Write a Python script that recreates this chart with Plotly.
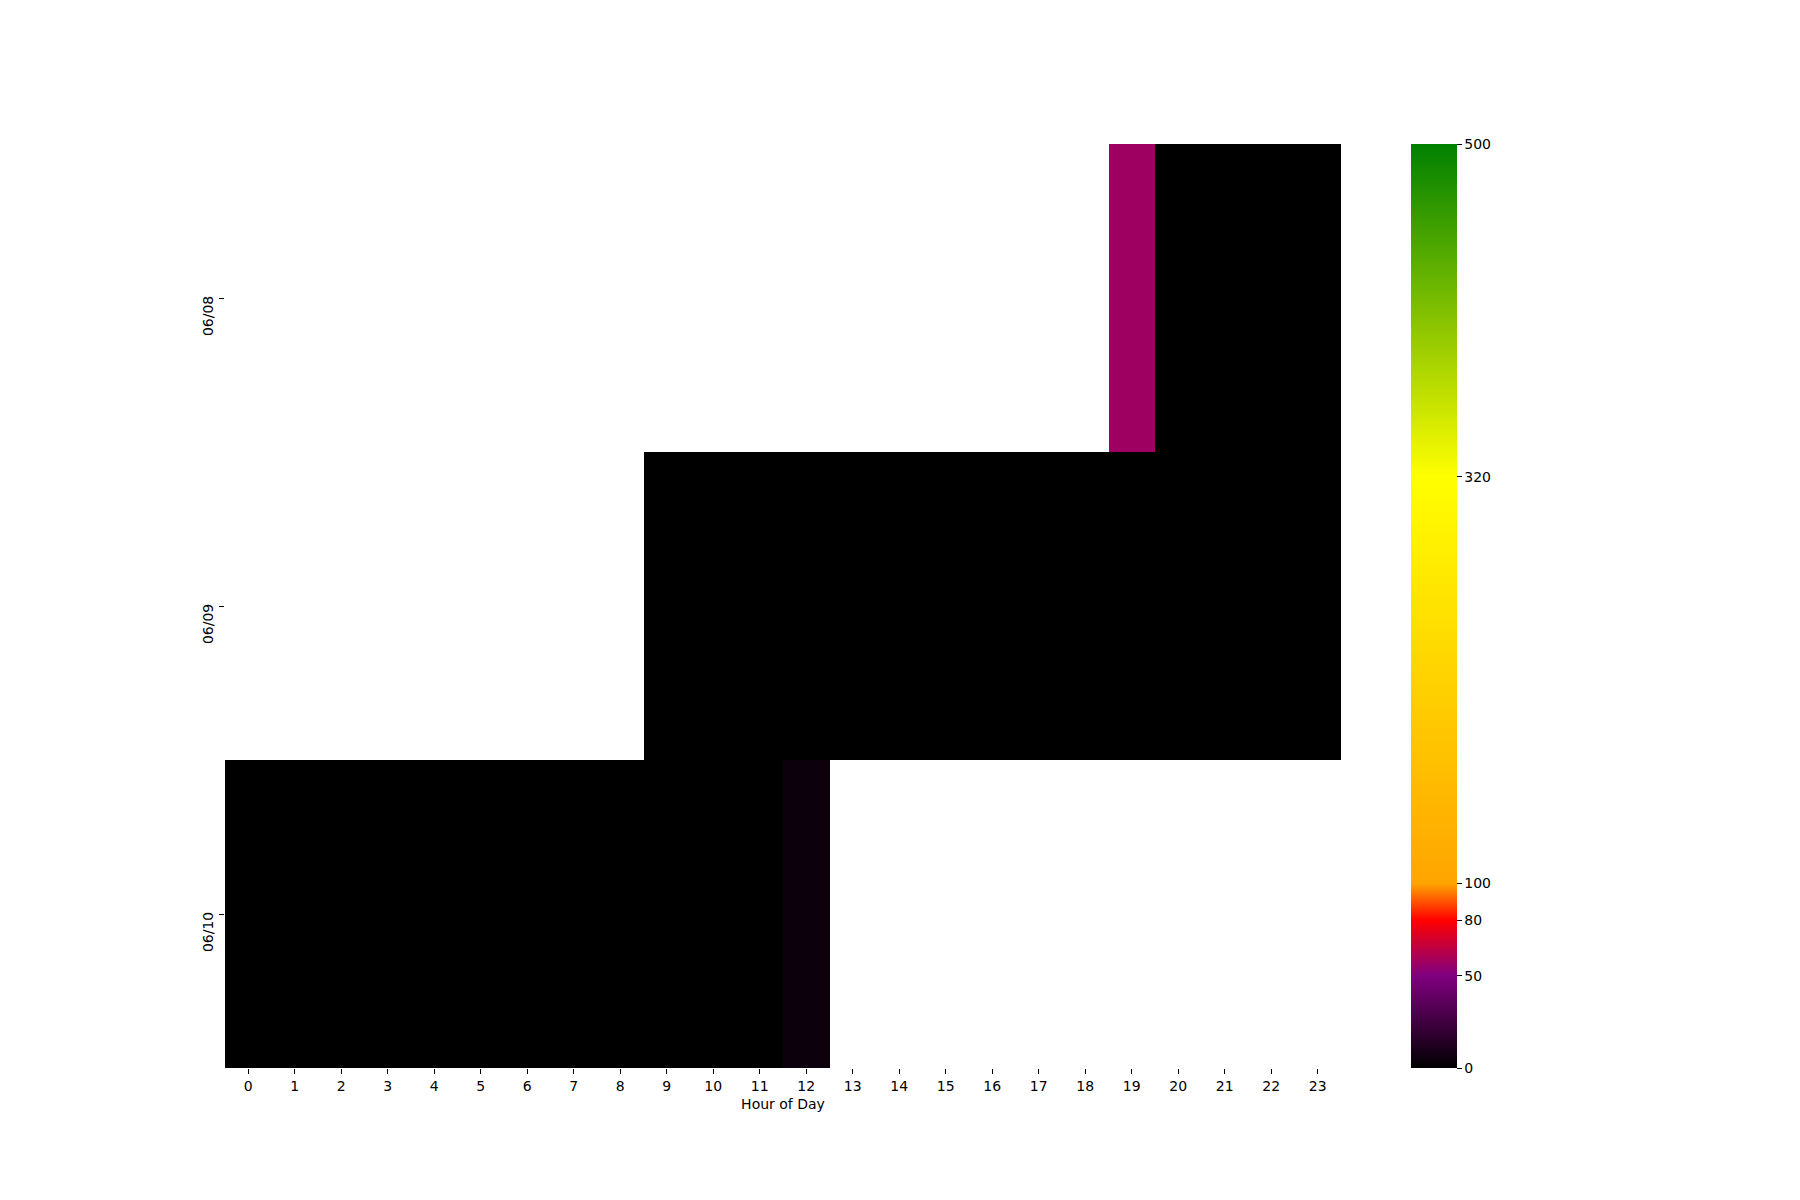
import plotly.graph_objects as go

hours = list(range(24))
dates = ["06/08", "06/09", "06/10"]
N = None
row_0608 = [N]*19 + [57] + [0, 0, 0, 0]
row_0609 = [N]*9 + [0]*15
row_0610 = [0]*12 + [5] + [N]*11
z = [row_0608, row_0609, row_0610]

cb_ticks = [0, 50, 80, 100, 320, 500]
colorscale = [
    [0.0, "#000000"],
    [0.1, "#800080"],
    [0.16, "#FF0000"],
    [0.2, "#FFA500"],
    [0.64, "#FFFF00"],
    [1.0, "#008000"],
]

fig = go.Figure(go.Heatmap(
    z=z, x=hours, y=dates,
    zmin=0, zmax=500,
    colorscale=colorscale,
    hoverongaps=False,
    colorbar=dict(
        thickness=46, thicknessmode="pixels",
        len=1, lenmode="fraction", y=0.5, yanchor="middle", ypad=0,
        x=1.0627, xanchor="left", xpad=0,
        outlinewidth=0,
        tickvals=cb_ticks, ticktext=[str(v) for v in cb_ticks],
        ticks="outside", ticklen=5, tickwidth=1, tickcolor="black",
        tickfont=dict(family="DejaVu Sans", size=14, color="black"),
    ),
))

fig.update_layout(
    width=1800, height=1200,
    margin=dict(l=225, r=459, t=144, b=132),
    paper_bgcolor="white", plot_bgcolor="white",
    font=dict(family="DejaVu Sans", size=14, color="black"),
    xaxis=dict(
        tickmode="array", tickvals=hours, ticktext=[str(h) for h in hours],
        range=[-0.5, 23.5], showgrid=False, zeroline=False, showline=False,
        ticks="outside", ticklen=5, tickwidth=1, tickcolor="black",
        title=dict(text="Hour of Day", standoff=6, font=dict(size=14)),
        tickangle=0,
    ),
    yaxis=dict(
        type="category", autorange="reversed", showgrid=False, zeroline=False,
        showline=False, ticks="outside", ticklen=5, tickwidth=1, tickcolor="black",
        tickangle=-90, ticklabelshift=-20,
    ),
)

fig.write_html("out.html")
